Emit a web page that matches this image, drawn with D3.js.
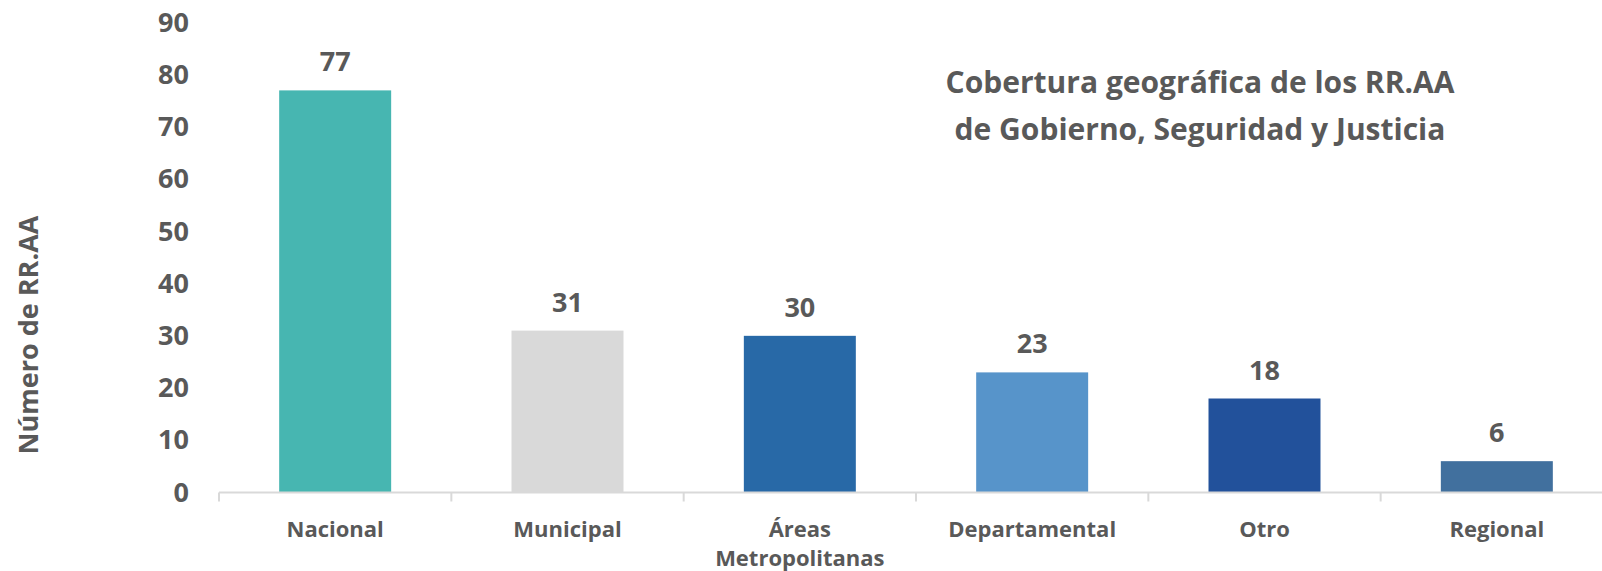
<!DOCTYPE html>
<html>
<head>
<meta charset="utf-8">
<script src="https://cdn.jsdelivr.net/npm/d3@7"></script>
<style>
  body { margin: 0; background: #fff; }
  svg text { font-family: "Open Sans", "Noto Sans", sans-serif; font-weight: 700; fill: #595959; }
</style>
</head>
<body>
<svg id="chart" width="1602" height="571"></svg>
<script>
// data
let categories = ["Nacional", "Municipal", "Áreas Metropolitanas", "Departamental", "Otro", "Regional"];
let values = [77, 31, 30, 23, 18, 6];
let barColors = ["#47b6b1", "#d9d9d9", "#2869a7", "#5794ca", "#22519b", "#41709e"];
let yTicks = [0, 10, 20, 30, 40, 50, 60, 70, 80, 90];
let titleLines = ["Cobertura geográfica de los RR.AA", "de Gobierno, Seguridad y Justicia"];
let yTitle = "Número de RR.AA";

let svg = d3.select("#chart");

let x = d3.scaleBand()
    .domain(categories)
    .range([219, 1613])
    .paddingInner(0.518)
    .paddingOuter(0.259);

let y = d3.scaleLinear()
    .domain([0, 90])
    .range([492.5, 22.5]);

// y axis labels
let yAxis = svg.append("g")
    .attr("transform", "translate(189,0)")
    .call(d3.axisLeft(y).tickValues(yTicks).tickSize(0).tickPadding(0));
yAxis.select(".domain").remove();
yAxis.selectAll("text")
    .style("font-size", "27px")
    .style("font-family", "\"Open Sans\", sans-serif")
    .style("font-weight", "700")
    .attr("fill", "#595959");

// bars
svg.selectAll("rect.bar")
    .data(values)
    .enter()
    .append("rect")
    .attr("class", "bar")
    .attr("x", (d, i) => x(categories[i]))
    .attr("y", d => y(d))
    .attr("width", x.bandwidth())
    .attr("height", d => y(0) - y(d))
    .attr("fill", (d, i) => barColors[i]);

// baseline + category separators
svg.append("line")
    .attr("x1", x.range()[0]).attr("x2", x.range()[1])
    .attr("y1", y(0)).attr("y2", y(0))
    .attr("stroke", "#d9d9d9").attr("stroke-width", 2);

let gap = (x.step() - x.bandwidth()) / 2;
svg.selectAll("line.sep")
    .data(categories)
    .enter()
    .append("line")
    .attr("class", "sep")
    .attr("x1", d => x(d) - gap).attr("x2", d => x(d) - gap)
    .attr("y1", y(0)).attr("y2", y(0) + 9)
    .attr("stroke", "#d9d9d9").attr("stroke-width", 2);

// value labels
svg.selectAll("text.val")
    .data(values)
    .enter()
    .append("text")
    .attr("class", "val")
    .attr("x", (d, i) => x(categories[i]) + x.bandwidth() / 2)
    .attr("y", d => y(d) - 19)
    .attr("text-anchor", "middle")
    .style("font-size", "27px")
    .text(d => d);

// category labels (wrap on space for long ones)
categories.forEach(c => {
    let parts = c === "Áreas Metropolitanas" ? c.split(" ") : [c];
    let t = svg.append("text")
        .attr("x", x(c) + x.bandwidth() / 2)
        .attr("y", 537)
        .attr("text-anchor", "middle")
        .style("font-size", "22px");
    parts.forEach((p, k) => {
        t.append("tspan")
            .attr("x", x(c) + x.bandwidth() / 2)
            .attr("dy", k === 0 ? 0 : 29)
            .text(p);
    });
});

// y title
svg.append("text")
    .attr("transform", "translate(38,335) rotate(-90)")
    .attr("text-anchor", "middle")
    .style("font-size", "27px")
    .text(yTitle);

// chart title
svg.selectAll("text.title")
    .data(titleLines)
    .enter()
    .append("text")
    .attr("class", "title")
    .attr("x", 1200)
    .attr("y", (d, i) => 93 + i * 47)
    .attr("text-anchor", "middle")
    .style("font-size", "30px")
    .text(d => d);
</script>
</body>
</html>
